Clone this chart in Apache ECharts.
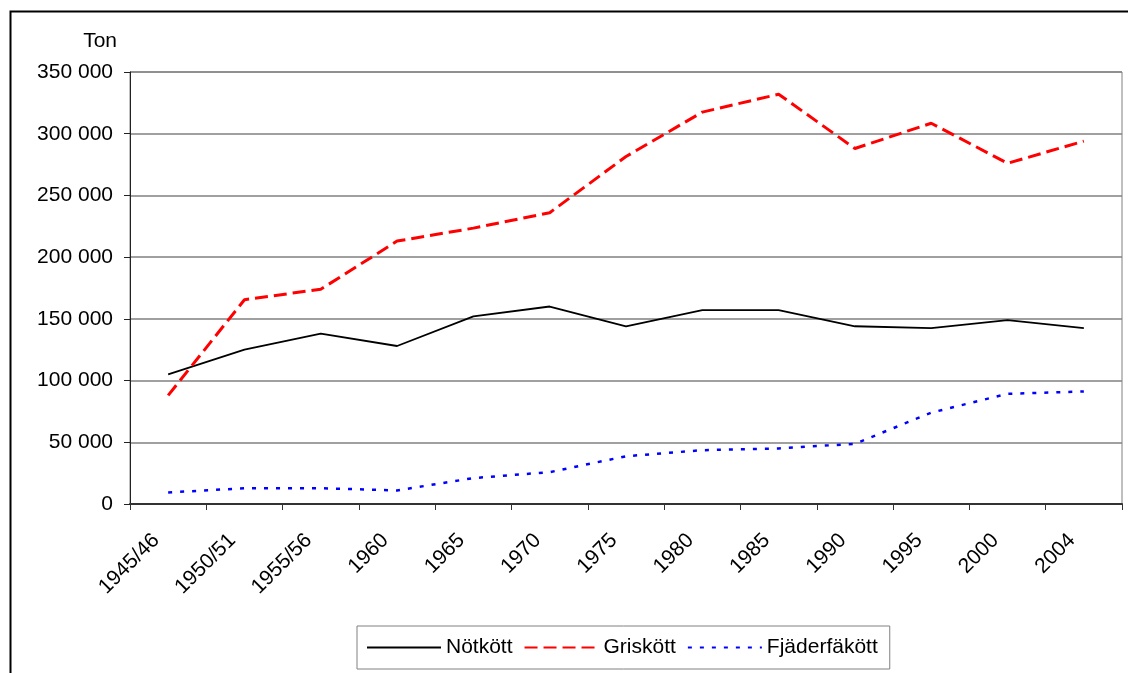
<!DOCTYPE html>
<html>
<head>
<meta charset="utf-8">
<script src="https://cdn.jsdelivr.net/npm/echarts@6/dist/echarts.min.js"></script>
<style>
html,body{margin:0;padding:0;background:#fff;}
#c{width:1128px;height:673px;}
</style>
</head>
<body>
<div id="c"></div>
<script>
const categories = ['1945/46','1950/51','1955/56','1960','1965','1970','1975','1980','1985','1990','1995','2000','2004'];
const notkott = [105000,125000,138000,128000,152000,160000,144000,157000,157000,144000,142500,149000,142500];
const griskott = [88000,165500,174000,213000,223500,236000,281500,317500,332000,288000,308500,276000,294000];
const fjaderfakott = [9300,12800,12800,11000,21000,25800,38700,43600,45000,48800,74000,89300,91200];
const yTicks = [0,50000,100000,150000,200000,250000,300000,350000];

const FONT = '"Liberation Sans", Arial, sans-serif';
function fmt(v){ return String(v).replace(/\B(?=(\d{3})+(?!\d))/g,' '); }

const chart = echarts.init(document.getElementById('c'));
chart.setOption({
  animation:false,
  backgroundColor:'#fff',
  textStyle:{fontFamily:FONT},
  graphic:[
    {type:'rect', shape:{x:10.5,y:11.5,width:1300,height:900}, style:{fill:'none',stroke:'#000',lineWidth:2}, z:-1},
    {type:'text', x:117, y:41, style:{text:'Ton', font:'21px '+FONT, fill:'#000', align:'right', verticalAlign:'middle'}}
  ],
  grid:{left:130, top:72, width:992, height:432, show:true, borderColor:'#808080', borderWidth:1, backgroundColor:'transparent'},
  legend:{
    left:357, top:626,
    padding:[11,12,11,9],
    borderColor:'#808080', borderWidth:1,
    itemWidth:74, itemHeight:14, itemGap:11,
    itemStyle:{opacity:0},
    textStyle:{fontSize:21, color:'#000', fontFamily:FONT},
    data:['Nötkött','Griskött','Fjäderfäkött']
  },
  xAxis:{
    type:'category', data:categories, boundaryGap:true,
    axisLine:{lineStyle:{color:'#333',width:2}},
    axisTick:{show:true, length:6, lineStyle:{color:'#333',width:1}},
    axisLabel:{rotate:45, margin:21, padding:[0,17,0,0], fontSize:21, color:'#000', fontFamily:FONT, interval:0}
  },
  yAxis:{
    type:'value', min:0, max:350000, interval:50000,
    axisLine:{show:true, lineStyle:{color:'#222',width:1}},
    axisTick:{show:true, length:6, lineStyle:{color:'#222'}},
    splitLine:{lineStyle:{color:'#808080',width:1.5}},
    axisLabel:{margin:17, fontSize:21, color:'#000', fontFamily:FONT, formatter:v=>fmt(v)}
  },
  series:[
    {name:'Nötkött', type:'line', data:notkott, symbol:'none', lineStyle:{color:'#000',width:1.8,type:'solid'}, itemStyle:{color:'#000'}},
    {name:'Griskött', type:'line', data:griskott, symbol:'none', lineStyle:{color:'#ff0000',width:3,type:[13,6]}, itemStyle:{color:'#ff0000'}},
    {name:'Fjäderfäkött', type:'line', data:fjaderfakott, symbol:'none', lineStyle:{color:'#0000ff',width:2.5,type:[4,8]}, itemStyle:{color:'#0000ff'}}
  ]
});
</script>
</body>
</html>
